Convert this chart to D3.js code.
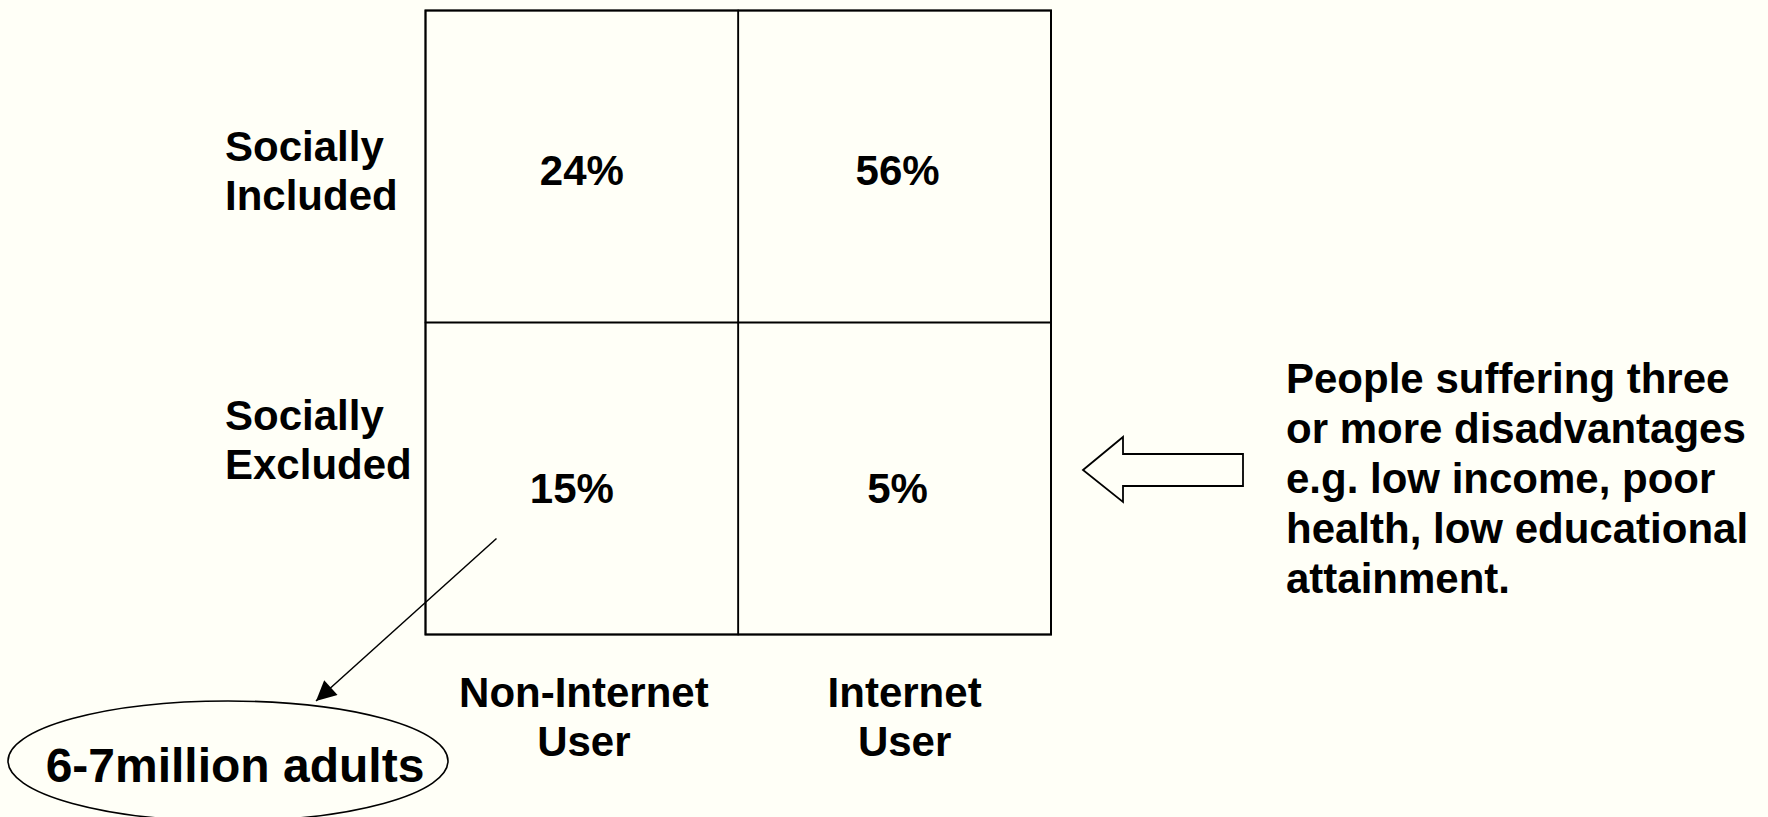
<!DOCTYPE html>
<html>
<head>
<meta charset="utf-8">
<script src="https://cdn.jsdelivr.net/npm/d3@7"></script>
<style>
  html, body { margin: 0; padding: 0; background: #fffff7; }
  svg { display: block; }
  text { font-family: "Liberation Sans", Arial, Helvetica, sans-serif; font-weight: bold; fill: #000; }
</style>
</head>
<body>
<svg id="chart" width="1768" height="817"></svg>
<script>
// ---- data ----
const columns = ["Non-Internet User", "Internet User"];
const columnLabels = [["Non-Internet", "User"], ["Internet", "User"]];
const rows = ["Socially Included", "Socially Excluded"];
const rowLabels = [["Socially", "Included"], ["Socially", "Excluded"]];
const values = [
  { row: "Socially Included", col: "Non-Internet User", value: 24 },
  { row: "Socially Included", col: "Internet User", value: 56 },
  { row: "Socially Excluded", col: "Non-Internet User", value: 15 },
  { row: "Socially Excluded", col: "Internet User", value: 5 }
];
const noteLines = ["People suffering three", "or more disadvantages", "e.g. low income, poor", "health, low educational", "attainment."];
const calloutText = "6-7million adults";

// ---- layout ----
const svg = d3.select("#chart");
svg.append("rect").attr("width", 1768).attr("height", 817).attr("fill", "#fffff7");

const x = d3.scaleBand().domain(columns).range([425.5, 1051]);
const y = d3.scaleBand().domain(rows).range([10.5, 634.5]);
const bw = x.bandwidth(), bh = y.bandwidth();
const FS = 42;

// cells
svg.append("g").selectAll("rect").data(values).join("rect")
  .attr("x", d => x(d.col)).attr("y", d => y(d.row))
  .attr("width", bw).attr("height", bh)
  .attr("fill", "none").attr("stroke", "#000").attr("stroke-width", 1.6);

// outer border slightly heavier
svg.append("rect")
  .attr("x", x.range()[0]).attr("y", y.range()[0])
  .attr("width", x.range()[1] - x.range()[0]).attr("height", y.range()[1] - y.range()[0])
  .attr("fill", "none").attr("stroke", "#000").attr("stroke-width", 2);

// values
const valOffset = { "Socially Included": { dy: 18 }, "Socially Excluded": { dy: 24 } };
const colOffset = { "Non-Internet User": { row0: 0, row1: -10 }, "Internet User": { row0: 3, row1: 3 } };
svg.append("g").selectAll("text").data(values).join("text")
  .attr("x", d => x(d.col) + bw / 2 + (d.row === rows[0] ? colOffset[d.col].row0 : colOffset[d.col].row1))
  .attr("y", d => y(d.row) + bh / 2 + valOffset[d.row].dy)
  .attr("text-anchor", "middle")
  .attr("font-size", FS)
  .text(d => d.value + "%");

// row labels
rows.forEach((r, i) => {
  const t = svg.append("text")
    .attr("x", 225)
    .attr("y", y(r) + (i === 0 ? 150 : 107))
    .attr("font-size", FS);
  rowLabels[i].forEach((line, j) => {
    t.append("tspan").attr("x", 225).attr("dy", j === 0 ? 0 : 49).text(line);
  });
});

// column labels
columns.forEach((c, i) => {
  const cx = x(c) + bw / 2 + (i === 0 ? 2 : 10);
  const t = svg.append("text")
    .attr("x", cx).attr("y", y.range()[1] + 72)
    .attr("text-anchor", "middle").attr("font-size", FS);
  columnLabels[i].forEach((line, j) => {
    t.append("tspan").attr("x", cx).attr("dy", j === 0 ? 0 : 49).text(line);
  });
});

// right note
const note = svg.append("text").attr("x", 1286).attr("y", 393).attr("font-size", FS);
noteLines.forEach((line, j) => {
  note.append("tspan").attr("x", 1286).attr("dy", j === 0 ? 0 : 50).text(line);
});

// block arrow pointing left toward the "Socially Excluded" row
const ay = y(rows[1]) + bh / 2 - 8.5; // centre line
const tipX = x.range()[1] + 32;
const arrowPts = [
  [tipX, ay], [tipX + 40, ay - 33], [tipX + 40, ay - 16], [tipX + 160, ay - 16],
  [tipX + 160, ay + 16], [tipX + 40, ay + 16], [tipX + 40, ay + 32]
];
svg.append("path")
  .attr("d", d3.line()(arrowPts) + "Z")
  .attr("fill", "#fffff7").attr("stroke", "#000").attr("stroke-width", 1.8)
  .attr("stroke-linejoin", "miter");

// callout ellipse
const ell = { cx: 228, cy: 761, rx: 220, ry: 60 };
svg.append("ellipse")
  .attr("cx", ell.cx).attr("cy", ell.cy).attr("rx", ell.rx).attr("ry", ell.ry)
  .attr("fill", "none").attr("stroke", "#000").attr("stroke-width", 1.6);
svg.append("text")
  .attr("x", 235).attr("y", 782).attr("text-anchor", "middle").attr("font-size", 48)
  .text(calloutText);

// pointer line from 15% cell to ellipse
svg.append("defs").append("marker")
  .attr("id", "head").attr("viewBox", "0 0 10 10")
  .attr("refX", 10).attr("refY", 5)
  .attr("markerWidth", 26).attr("markerHeight", 20)
  .attr("markerUnits", "userSpaceOnUse")
  .attr("orient", "auto")
  .append("path").attr("d", "M0,0 L10,5 L0,10 Z").attr("fill", "#000");
const start = [x(columns[0]) + 71, y(rows[1]) + 216];
const end = [316, ell.cy - ell.ry + 0];
svg.append("line")
  .attr("x1", start[0]).attr("y1", start[1]).attr("x2", end[0]).attr("y2", end[1])
  .attr("stroke", "#000").attr("stroke-width", 1.5)
  .attr("marker-end", "url(#head)");
</script>
</body>
</html>
